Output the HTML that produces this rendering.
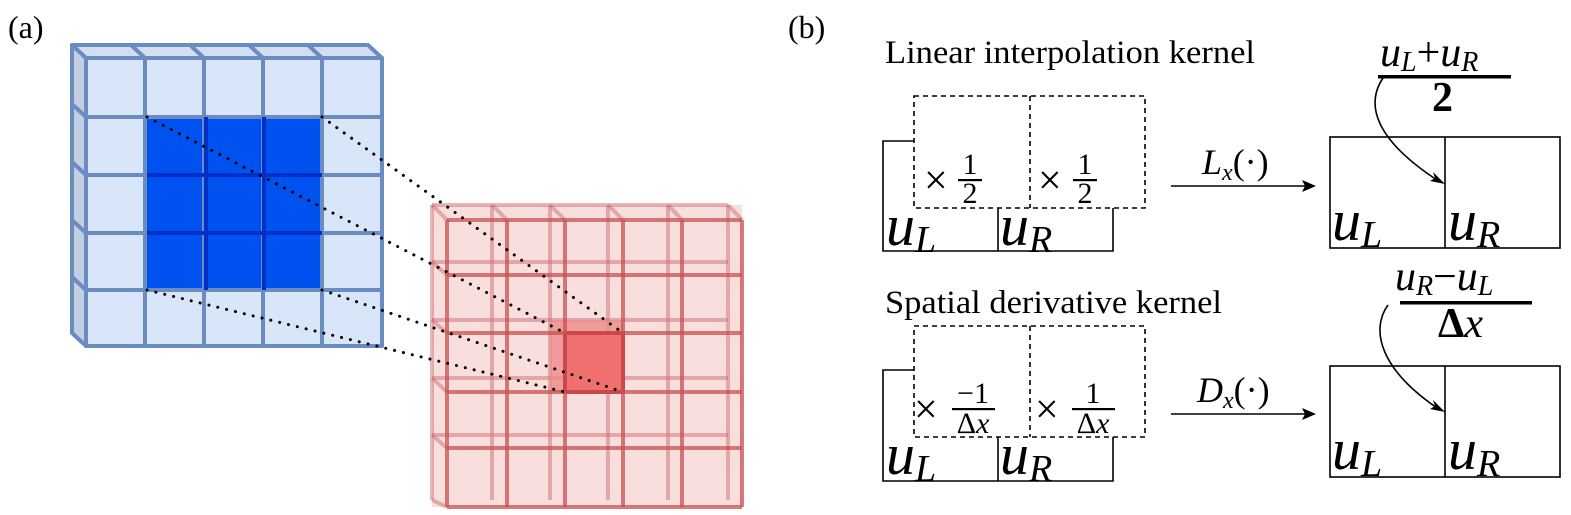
<!DOCTYPE html>
<html><head><meta charset="utf-8"><style>
html,body{margin:0;padding:0;background:#fff}
svg{display:block}
</style></head><body>
<svg width="1571" height="515" viewBox="0 0 1571 515" xmlns="http://www.w3.org/2000/svg" style="font-family:'Liberation Serif','DejaVu Serif',serif">
<text x="8" y="38" style="font-family:'Liberation Serif','DejaVu Serif',serif;font-size:32px">(a)</text>
<text x="788" y="38" style="font-family:'Liberation Serif','DejaVu Serif',serif;font-size:32px">(b)</text>

<!-- Blue block -->
<g stroke="#6a8cc0" stroke-width="4" stroke-linejoin="round">
<polygon points="72,45 368,45 382,58 86,58" fill="#d3def0"/>
<polygon points="72,45 86,58 86,346 72,333" fill="#c2cfe3"/>
<rect x="86" y="58" width="296" height="288" fill="#d9e5f8"/>
<rect x="147" y="117" width="175" height="173" fill="#0052f0" stroke="none"/>
<g fill="none">
<line x1="145" y1="58" x2="145" y2="346"/><line x1="204" y1="58" x2="204" y2="346"/>
<line x1="263" y1="58" x2="263" y2="346"/><line x1="322" y1="58" x2="322" y2="346"/>
<line x1="86" y1="117" x2="382" y2="117"/><line x1="86" y1="175" x2="382" y2="175"/>
<line x1="86" y1="233" x2="382" y2="233"/><line x1="86" y1="290" x2="382" y2="290"/>
<line x1="131" y1="45" x2="145" y2="58"/><line x1="190" y1="45" x2="204" y2="58"/>
<line x1="249" y1="45" x2="263" y2="58"/><line x1="308" y1="45" x2="322" y2="58"/>
<line x1="72" y1="104" x2="86" y2="117"/><line x1="72" y1="162" x2="86" y2="175"/>
<line x1="72" y1="220" x2="86" y2="233"/><line x1="72" y1="277" x2="86" y2="290"/>
</g>
<g stroke="#0030c8" fill="none">
<line x1="206" y1="117" x2="206" y2="290"/><line x1="264" y1="117" x2="264" y2="290"/>
<line x1="147" y1="175" x2="322" y2="175"/><line x1="147" y1="233" x2="322" y2="233"/>
</g>
</g>

<!-- Red block -->
<rect x="432" y="205" width="310" height="302" fill="#f9dede"/>
<g stroke="#d07070" stroke-width="4" fill="none" stroke-opacity="0.5">
<line x1="432" y1="205" x2="432" y2="500"/><line x1="492" y1="205" x2="492" y2="500"/>
<line x1="550" y1="205" x2="550" y2="500"/><line x1="608" y1="205" x2="608" y2="500"/>
<line x1="668" y1="205" x2="668" y2="500"/><line x1="728" y1="205" x2="728" y2="500"/>
<line x1="432" y1="205" x2="728" y2="205"/><line x1="432" y1="262" x2="728" y2="262"/>
<line x1="432" y1="320" x2="728" y2="320"/><line x1="432" y1="378" x2="728" y2="378"/>
<line x1="432" y1="435" x2="728" y2="435"/>
<line x1="432" y1="205" x2="447" y2="220"/><line x1="492" y1="205" x2="507" y2="220"/>
<line x1="550" y1="205" x2="565" y2="220"/><line x1="608" y1="205" x2="623" y2="220"/>
<line x1="668" y1="205" x2="682" y2="220"/><line x1="728" y1="205" x2="742" y2="220"/>
<line x1="432" y1="262" x2="447" y2="275"/><line x1="432" y1="320" x2="447" y2="333"/>
<line x1="432" y1="378" x2="447" y2="392"/><line x1="432" y1="435" x2="447" y2="448"/>
<line x1="432" y1="500" x2="447" y2="507"/>
</g>
<rect x="550" y="320" width="73" height="72" fill="#ec8a8a" fill-opacity="0.8"/>
<rect x="565" y="333" width="58" height="59" fill="#f07070" stroke="#d03030" stroke-width="4"/>
<g fill="none" stroke="#c85050" stroke-width="4" stroke-opacity="0.75">
<line x1="447" y1="220" x2="447" y2="507"/><line x1="507" y1="220" x2="507" y2="507"/>
<line x1="565" y1="220" x2="565" y2="507"/><line x1="623" y1="220" x2="623" y2="507"/>
<line x1="682" y1="220" x2="682" y2="507"/><line x1="742" y1="220" x2="742" y2="507"/>
<line x1="447" y1="220" x2="742" y2="220"/><line x1="447" y1="275" x2="742" y2="275"/>
<line x1="447" y1="333" x2="742" y2="333"/><line x1="447" y1="392" x2="742" y2="392"/>
<line x1="447" y1="448" x2="742" y2="448"/><line x1="447" y1="507" x2="742" y2="507"/>
</g>

<!-- dotted connectors -->
<g stroke="#000" stroke-width="3" stroke-dasharray="0.1 9" stroke-linecap="round" fill="none">
<line x1="147" y1="117" x2="565" y2="333"/>
<line x1="322" y1="117" x2="623" y2="333"/>
<line x1="147" y1="290" x2="565" y2="392"/>
<line x1="322" y1="290" x2="623" y2="392"/>
</g>

<!-- (b) -->
<text x="885" y="63" textLength="370" lengthAdjust="spacingAndGlyphs" style="font-family:'Liberation Serif','DejaVu Serif',serif;font-size:33px">Linear interpolation kernel</text>
<text x="885" y="313" textLength="337" lengthAdjust="spacingAndGlyphs" style="font-family:'Liberation Serif','DejaVu Serif',serif;font-size:33px">Spatial derivative kernel</text>

<g stroke="#000" stroke-width="1.6" fill="none">
<polyline points="914,141 883,141 883,251 1113,251 1113,208"/>
<line x1="998" y1="208" x2="998" y2="251"/>
<rect x="914" y="96" width="231" height="112" stroke-dasharray="5 4"/>
<line x1="1030" y1="96" x2="1030" y2="208" stroke-dasharray="5 4"/>
<polyline points="914,370 883,370 883,481 1113,481 1113,437"/>
<line x1="998" y1="437" x2="998" y2="481"/>
<rect x="914" y="326" width="231" height="111" stroke-dasharray="5 4"/>
<line x1="1030" y1="326" x2="1030" y2="437" stroke-dasharray="5 4"/>
<rect x="1330" y="137" width="230" height="111"/>
<line x1="1445" y1="137" x2="1445" y2="248"/>
<rect x="1330" y="366" width="230" height="111"/>
<line x1="1445" y1="366" x2="1445" y2="477"/>
<line x1="1171" y1="186" x2="1310" y2="186"/>
<line x1="1171" y1="414" x2="1310" y2="414"/>
<path d="M1383,78 C1365,105 1375,140 1440,182"/>
<path d="M1388,305 C1370,330 1380,370 1440,410"/>
</g>
<g fill="#000">
<polygon points="1316,186 1302,180 1305,186 1302,192"/>
<polygon points="1316,414 1302,408 1305,414 1302,420"/>
<polygon points="1445,184 1430,181 1435,178 1433,172"/>
<polygon points="1445,412 1430,409 1435,406 1433,400"/>
</g>

<!-- labels -->
<g style="font-family:'Liberation Serif','DejaVu Serif',serif;font-style:italic;font-size:58px">
<text x="886" y="245">u<tspan style="font-size:38px" dy="7">L</tspan></text>
<text x="1000" y="245">u<tspan style="font-size:38px" dy="7">R</tspan></text>
<text x="886" y="474">u<tspan style="font-size:38px" dy="7">L</tspan></text>
<text x="1000" y="474">u<tspan style="font-size:38px" dy="7">R</tspan></text>
<text x="1332" y="240">u<tspan style="font-size:38px" dy="7">L</tspan></text>
<text x="1448" y="240">u<tspan style="font-size:38px" dy="7">R</tspan></text>
<text x="1332" y="469">u<tspan style="font-size:38px" dy="7">L</tspan></text>
<text x="1448" y="469">u<tspan style="font-size:38px" dy="7">R</tspan></text>
</g>
<g style="font-family:'Liberation Serif','DejaVu Serif',serif;font-style:italic;font-size:36px">
<text x="1202" y="174">L<tspan style="font-size:24px" dy="6">x</tspan><tspan style="font-style:normal" dy="-6">(·)</tspan></text>
<text x="1197" y="402">D<tspan style="font-size:24px" dy="6">x</tspan><tspan style="font-style:normal" dy="-6">(·)</tspan></text>
</g>
<g style="font-family:'Liberation Serif','DejaVu Serif',serif;font-style:italic;font-size:42px">
<text x="1380" y="66">u<tspan style="font-size:28px" dy="5">L</tspan><tspan style="font-style:normal" dy="-5">+</tspan>u<tspan style="font-size:28px" dy="5">R</tspan></text>
<text x="1395" y="290">u<tspan style="font-size:28px" dy="5">R</tspan><tspan style="font-style:normal" dy="-5">−</tspan>u<tspan style="font-size:28px" dy="5">L</tspan></text>
</g>
<rect x="1378" y="75" width="133" height="3.5" fill="#000"/>
<rect x="1400" y="301" width="132" height="3.5" fill="#000"/>
<text x="1432" y="111" style="font-family:'Liberation Serif','DejaVu Serif',serif;font-size:42px;font-weight:bold">2</text>
<text x="1438" y="337" style="font-family:'Liberation Serif','DejaVu Serif',serif;font-size:42px"><tspan style="font-weight:bold">Δ</tspan><tspan style="font-style:italic">x</tspan></text>

<!-- multipliers -->
<g style="font-family:'Liberation Serif','DejaVu Serif',serif;font-size:42px">
<text x="924" y="194">×</text>
<text x="1038" y="194">×</text>
<text x="914" y="423">×</text>
<text x="1035" y="423">×</text>
</g>
<g style="font-family:'Liberation Serif','DejaVu Serif',serif;font-size:30px" text-anchor="middle">
<text x="970" y="174">1</text><rect x="958" y="179" width="24" height="2.2"/><text x="970" y="203">2</text>
<text x="1085" y="174">1</text><rect x="1073" y="179" width="24" height="2.2"/><text x="1085" y="203">2</text>
<text x="973" y="403">−1</text><rect x="952" y="408" width="43" height="2.2"/><text x="973" y="433">Δ<tspan style="font-style:italic">x</tspan></text>
<text x="1093" y="403">1</text><rect x="1072" y="408" width="43" height="2.2"/><text x="1093" y="433">Δ<tspan style="font-style:italic">x</tspan></text>
</g>
</svg>
</body></html>
